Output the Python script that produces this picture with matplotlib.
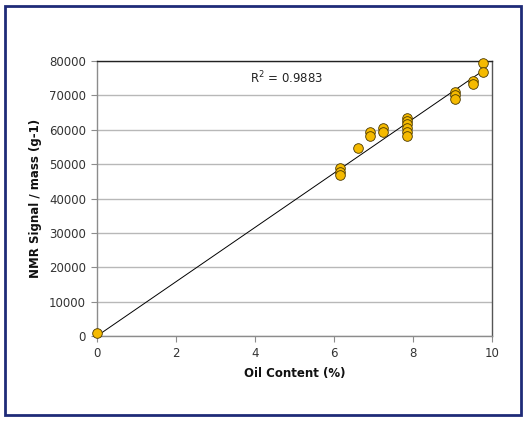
import matplotlib
matplotlib.use("Agg")
import matplotlib.pyplot as plt
from matplotlib.patches import Rectangle
import numpy as np

oil = [0.0,
       6.15, 6.15, 6.15,
       6.6,
       6.92, 6.92,
       7.23, 7.23,
       7.85, 7.85, 7.85, 7.85, 7.85, 7.85,
       9.06, 9.06, 9.06,
       9.53, 9.53,
       9.76, 9.76]
nmr = [1000,
       48800, 47700, 46800,
       54800,
       59300, 58300,
       60400, 59300,
       63500, 62600, 61600, 60400, 59300, 58200,
       71000, 70100, 69000,
       74200, 73200,
       79300, 76900]
x_ticks = [0, 2, 4, 6, 8, 10]
y_ticks = [0, 10000, 20000, 30000, 40000, 50000, 60000, 70000, 80000]
r2_text = "R$^2$ = 0.9883"

W, H = 528, 421
fig = plt.figure(figsize=(W/100, H/100), dpi=100)
fig.patch.set_facecolor("white")

# navy frame
fig.add_artist(Rectangle((5/W, 1-415/H), (521-5)/W, (415-6)/H, transform=fig.transFigure,
                         fill=False, edgecolor="#1f2b78", linewidth=2.0))

ax = fig.add_axes([97/W, 1-336/H, (492-97)/W, (336-61)/H])
ax.set_xlim(0, 10)
ax.set_ylim(0, 80000)
ax.set_xticks(x_ticks)
ax.set_yticks(y_ticks)
ax.set_xticklabels([str(v) for v in x_ticks])
ax.set_yticklabels([str(v) for v in y_ticks])

ax.yaxis.grid(True, color="#b8b8b8", linewidth=1.0)
ax.set_axisbelow(True)
for s in ["left", "bottom"]:
    ax.spines[s].set_color("#8c8c8c")
    ax.spines[s].set_linewidth(1.0)
ax.spines["top"].set_color("#222222")
ax.spines["right"].set_color("#555555")
ax.spines["top"].set_linewidth(1.0)
ax.spines["right"].set_linewidth(1.0)

ax.tick_params(axis="both", direction="out", length=4, width=0.8, color="#8c8c8c",
               labelsize=8.5, labelcolor="#333333", pad=4)

# trend line: least squares fit through the origin
xa = np.array(oil)
ya = np.array(nmr)
slope = np.sum(xa * ya) / np.sum(xa * xa)
xl = np.array([0.0, xa.max()])
ax.plot(xl, slope * xl, color="black", linewidth=0.7, zorder=3)

ax.scatter(oil, nmr, s=48, facecolor="#f5ba00", edgecolor="#4a3800", linewidth=0.6, zorder=4,
           clip_on=False)

ax.text(3.87, 75000, r2_text, fontsize=8.5, color="#222222", va="center", ha="left")

ax.set_xlabel("Oil Content (%)", fontsize=8.5, fontweight="bold", color="#111111", labelpad=5)
ax.set_ylabel("NMR Signal / mass (g-1)", fontsize=8.5, fontweight="bold", color="#111111", labelpad=5)

fig.savefig("out.png", dpi=100)
